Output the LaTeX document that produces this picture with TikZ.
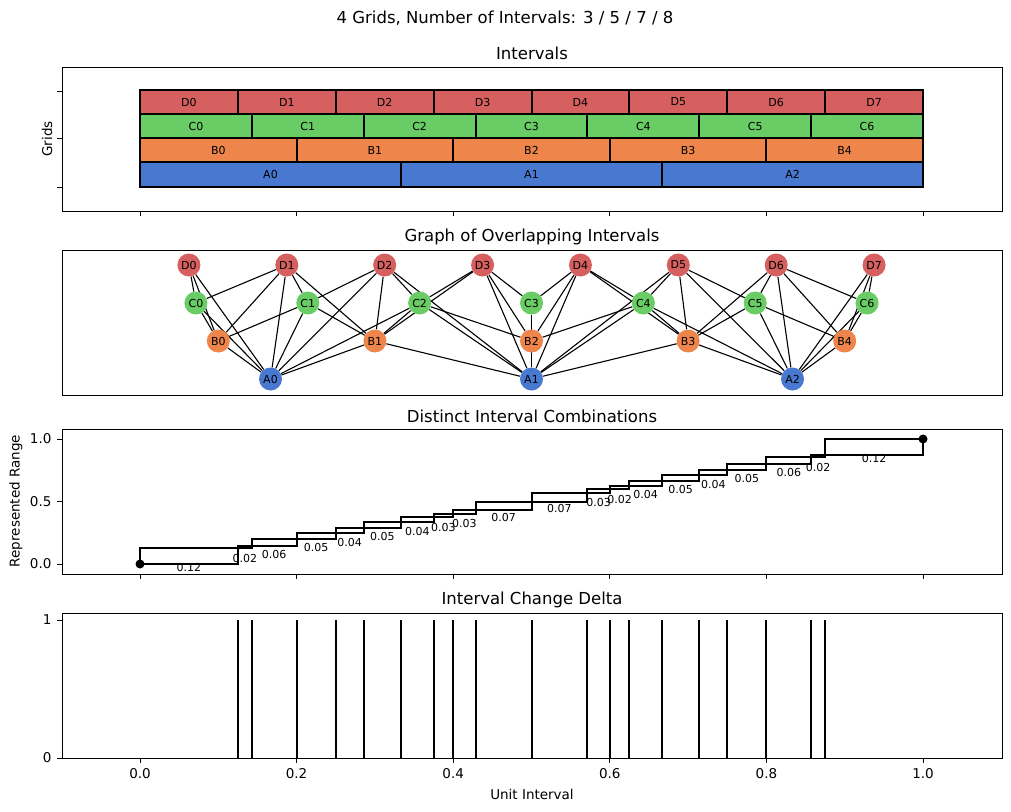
\documentclass[tikz,border=0pt]{standalone}
\usepackage{fontspec}
\setmainfont{DejaVu Sans}
\pgfdeclarelayer{edges}
\pgfsetlayers{edges,main}
\definecolor{cD}{HTML}{D65F5F}
\definecolor{cC}{HTML}{6ACC64}
\definecolor{cB}{HTML}{EE854A}
\definecolor{cA}{HTML}{4878D0}
\newcommand\fs[1]{\fontsize{#1}{#1}\selectfont}
\newcommand\gridrow[6]{% letter n color ytop ybot ynode
  \pgfmathtruncatemacro\lastidx{#2-1}
  \foreach \i in {0,...,\lastidx}{
    \pgfmathsetmacro\xa{140+783*\i/#2}
    \pgfmathsetmacro\xb{140+783*(\i+1)/#2}
    \draw[fill=#3, line width=2pt] (\xa,#4) rectangle (\xb,#5);
    \node[barlab] (bar#1\i) at ({(\xa+\xb)/2},{(#4+#5)/2}) {#1\i};
    \node[gnode, fill=#3] (#1\i) at ({140+783*(\i+0.5)/#2},#6) {#1\i};
  }}
\newcommand\edges[6]{% L1 n1 last1 L2 n2 last2
  \foreach \a in {0,...,#3}{\foreach \b in {0,...,#6}{
    \ifnum\numexpr\a*#5\relax<\numexpr(\b+1)*#2\relax
      \ifnum\numexpr\b*#2\relax<\numexpr(\a+1)*#5\relax
        \draw[edge] (#1\a) -- (#4\b);
      \fi
    \fi}}}
\begin{document}
\begin{tikzpicture}[x=1pt,y=-1pt,
  barlab/.style={font=\fs{11}},
  gnode/.style={circle, minimum size=23pt, inner sep=0pt, font=\fs{11}},
  edge/.style={line width=1.1pt},
  frame/.style={line width=1pt},
  ttl/.style={font=\fs{16.5}},
  tick/.style={font=\fs{13.5}},
  small/.style={font=\fs{11}, inner sep=0pt},
  heavy/.style={line width=2pt}]
\useasboundingbox (0,0) rectangle (1011,811);
\node[ttl] (suptitle) at (505,18) {4 Grids, Number of Intervals: 3 / 5 / 7 / 8};
% panel 1
\node[ttl] (t1) at (532,53) {Intervals};
\gridrow{D}{8}{cD}{90}{114}{265}
\gridrow{C}{7}{cC}{114}{138}{303}
\gridrow{B}{5}{cB}{138}{162}{341}
\gridrow{A}{3}{cA}{162}{187}{379}
\draw[frame] (62,67) rectangle (1002,211);
\foreach \y in {91,138,187} \draw[frame] (62,\y) -- (57,\y);
\foreach \v in {0,0.2,0.4,0.6,0.8,1.0} \draw[frame] ({140+783*\v},211) -- ({140+783*\v},216);
\node[tick, rotate=90] (yl1) at (47,139) {Grids};
% panel 2
\node[ttl] (t2) at (532,237) {Graph of Overlapping Intervals};
\draw[frame] (62,250) rectangle (1002,395);
\begin{pgfonlayer}{edges}
\edges{A}{3}{2}{B}{5}{4}
\edges{A}{3}{2}{C}{7}{6}
\edges{A}{3}{2}{D}{8}{7}
\edges{B}{5}{4}{C}{7}{6}
\edges{B}{5}{4}{D}{8}{7}
\edges{C}{7}{6}{D}{8}{7}
\end{pgfonlayer}
% panel 3
\node[ttl] (t3) at (532,416) {Distinct Interval Combinations};
\draw[frame] (62,429) rectangle (1002,574);
\foreach \xa/\xb/\lab in {
  0/0.125/0.12, 0.125/0.142857/0.02, 0.142857/0.2/0.06, 0.2/0.25/0.05,
  0.25/0.285714/0.04, 0.285714/0.333333/0.05, 0.333333/0.375/0.04,
  0.375/0.4/0.03, 0.4/0.428571/0.03, 0.428571/0.5/0.07, 0.5/0.571429/0.07,
  0.571429/0.6/0.03, 0.6/0.625/0.02, 0.625/0.666667/0.04,
  0.666667/0.714286/0.05, 0.714286/0.75/0.04, 0.75/0.8/0.05,
  0.8/0.857143/0.06, 0.857143/0.875/0.02, 0.875/1/0.12}{
  \draw[heavy] ({140+783*\xa},{564-125*\xa}) rectangle ({140+783*\xb},{564-125*\xb});
  \node[small, anchor=north] at ({140+391.5*(\xa+\xb)},{564-125*((\xa+\xb)/2-0.05)+1}) {\lab};
}
\fill (140,564) circle (4.5pt);
\fill (923,439) circle (4.5pt);
\foreach \v in {0,0.2,0.4,0.6,0.8,1.0} \draw[frame] ({140+783*\v},574) -- ({140+783*\v},579);
\foreach \v/\l in {0/0.0,0.5/0.5,1/1.0}{
  \draw[frame] (62,{564-125*\v}) -- (57,{564-125*\v});
  \node[tick, anchor=east] at (55,{564-125*\v}) {\l};}
\node[tick, rotate=90] (yl3) at (16,501) {Represented Range};
% panel 4
\node[ttl] (t4) at (532,600) {Interval Change Delta};
\draw[frame] (62,613) rectangle (1002,758);
\foreach \v in {0.125,0.142857,0.2,0.25,0.285714,0.333333,0.375,0.4,0.428571,0.5,0.571429,0.6,0.625,0.666667,0.714286,0.75,0.8,0.857143,0.875}
  \draw[heavy] ({140+783*\v},758) -- ({140+783*\v},620);
\foreach \v/\y in {0/758,1/620}{
  \draw[frame] (62,\y) -- (57,\y);
  \node[tick, anchor=east] at (55,\y) {\v};}
\foreach \v in {0.0,0.2,0.4,0.6,0.8,1.0}{
  \draw[frame] ({140+783*\v},758) -- ({140+783*\v},763);
  \node[tick, anchor=north] at ({140+783*\v},765) {\v};}
\node[tick] (xl) at (532,794) {Unit Interval};
\end{tikzpicture}
\end{document}
